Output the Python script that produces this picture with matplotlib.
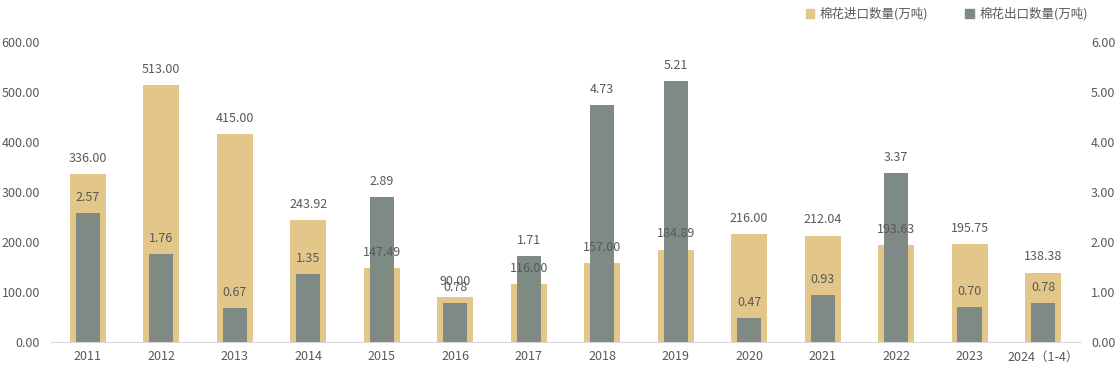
import numpy as np
import matplotlib.pyplot as plt
from matplotlib.patches import Patch

plt.rcParams['font.family'] = ['Noto Sans CJK SC', 'DejaVu Sans']

years = ["2011", "2012", "2013", "2014", "2015", "2016", "2017", "2018",
         "2019", "2020", "2021", "2022", "2023", "2024（1-4）"]
imports = [336.00, 513.00, 415.00, 243.92, 147.49, 90.00, 116.00, 157.00,
           184.89, 216.00, 212.04, 193.63, 195.75, 138.38]
exports = [2.57, 1.76, 0.67, 1.35, 2.89, 0.78, 1.71, 4.73,
           5.21, 0.47, 0.93, 3.37, 0.70, 0.78]

c_imp = "#E3C68A"
c_exp = "#7E8A83"
txt = "#595959"

fig = plt.figure(figsize=(11.19, 3.85), dpi=100)
ax = fig.add_axes([0.0456, 0.1117, 0.9194, 0.7793])
ax2 = ax.twinx()

x = np.arange(len(years))
ax.bar(x, imports, width=0.49, color=c_imp, zorder=2)
ax2.bar(x, exports, width=0.33, color=c_exp, zorder=3)

# left axis is 100x the right one, so import labels can sit on ax2 (drawn above both bar sets)
scale = 100.0
for xi, v in zip(x, imports):
    ax2.annotate(f"{v:.2f}", (xi, v / scale), xytext=(0, 11.5), textcoords="offset points",
                 ha="center", va="center", fontsize=9, color=txt, zorder=5)
for xi, v in zip(x, exports):
    ax2.annotate(f"{v:.2f}", (xi, v), xytext=(0, 11.5), textcoords="offset points",
                 ha="center", va="center", fontsize=9, color=txt, zorder=5)

ax.set_xlim(-0.5, len(years) - 0.5)
ax.set_ylim(0, 600)
ax2.set_ylim(0, 600 / scale)
ax.set_yticks(np.arange(0, 601, 100))
ax2.set_yticks(np.arange(0, 6.01, 1))
ax.set_yticklabels([f"{t:.2f}" for t in np.arange(0, 601, 100)])
ax2.set_yticklabels([f"{t:.2f}" for t in np.arange(0, 6.01, 1)])
ax.set_xticks(x)
ax.set_xticklabels(years)

for a in (ax, ax2):
    for s in a.spines.values():
        s.set_visible(False)
    a.tick_params(length=0, labelsize=9, labelcolor=txt)
ax.spines["bottom"].set_visible(True)
ax.spines["bottom"].set_color("#D9D9D9")
ax.tick_params(axis="y", pad=8)
ax2.tick_params(axis="y", pad=8)
ax.tick_params(axis="x", pad=6)

handles = [Patch(color=c_imp, label="棉花进口数量(万吨)"),
           Patch(color=c_exp, label="棉花出口数量(万吨)")]
fig.legend(handles=handles, loc="upper right", bbox_to_anchor=(0.982, 1.01), ncol=2,
           frameon=False, fontsize=9, handlelength=0.7, handleheight=0.7,
           handletextpad=0.4, columnspacing=3.0, labelcolor=txt)

fig.savefig("out.png", dpi=100)
